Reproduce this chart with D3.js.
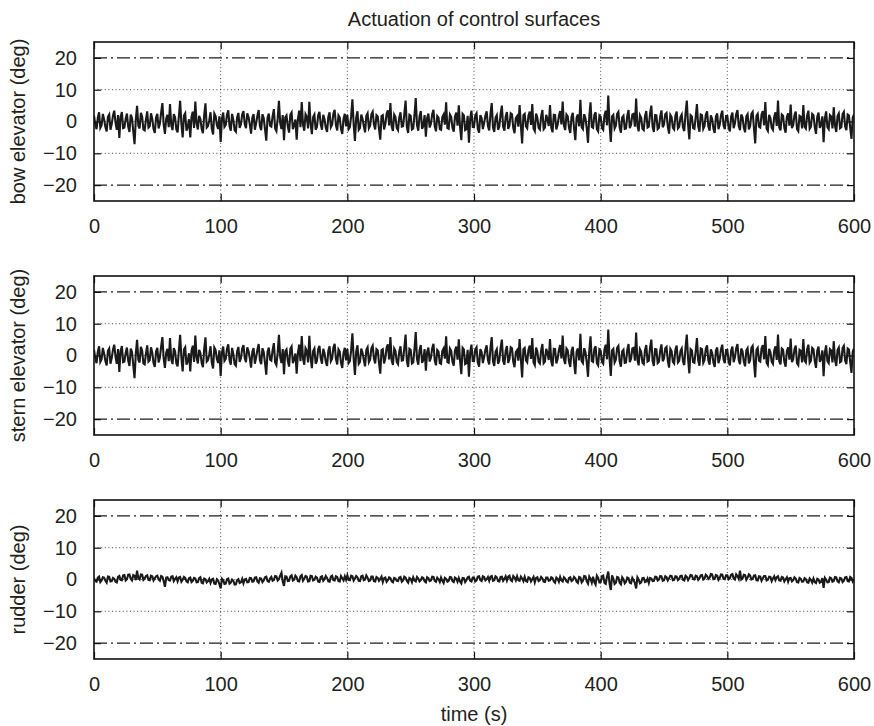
<!DOCTYPE html>
<html>
<head>
<meta charset="utf-8">
<script src="https://cdn.jsdelivr.net/npm/d3@7"></script>
<style>
    body { margin: 0; background: #fff; }
    text { font-family: "Liberation Sans", Arial, Helvetica, sans-serif; fill: #231f20; }
</style>
</head>
<body>
<svg id="chart" width="874" height="726"></svg>
<script>
const timeTicks = [0, 100, 200, 300, 400, 500, 600];
const degTicks = [-20, -10, 0, 10, 20];
const gridDeg = [-10, 0, 10];
const limitDeg = [-20, 20];
const sampleStep = 1; // seconds between read-off samples

const bowDeg = [
    1.8, -0.9, -2.4, 1.1, 2.9, -2.0, -1.2, 2.4, 0.6, -1.7, -3.1, 1.5, 2.2, -2.6, -0.8, 1.9, 3.4, -0.4, -2.6, 2.0,
    -5.2, 1.4, 3.0, -2.1, -1.9, 0.8, 2.5, -1.6, -3.3, 2.2, 1.1, -3.0, -7.1, 0.5, 4.9, -1.3, -2.2, 2.7, 1.6, -2.5,
    -2.8, 0.6, 3.2, -1.9, -1.5, 2.6, 0.9, -2.4, -3.6, 1.3, 2.4, -2.2, -0.7, 2.8, 5.8, -1.0, -3.9, 0.9, 2.1, -1.8,
    5.5, -1.2, -2.7, 2.3, 1.3, -2.5, -3.4, 1.6, 6.5, -0.8, -5.0, 1.9, 2.6, -2.9, -1.8, 0.7, -5.0, 1.5, 3.1, -2.0,
    6.3, -0.6, -2.5, 1.8, 0.8, -2.3, -3.7, 2.0, 5.7, -1.9, -1.4, 0.4, 2.9, -2.2, -4.1, 2.5, 1.7, -1.1, -2.3, 1.6,
    -6.4, 1.0, 2.8, -1.7, -1.1, 2.1, 3.5, -1.4, -2.9, 2.4, 0.5, -2.7, -3.2, 1.3, 2.7, -2.0, -0.9, 2.2, 3.3, -0.8,
    -2.1, 2.6, 1.4, -0.9, -3.8, 1.2, 2.3, -2.6, -0.6, 1.8, 3.6, -1.5, -2.7, 2.3, 1.0, -2.4, -6.0, 1.1, 2.5, -1.3,
    -1.6, 1.7, 3.9, -2.2, -3.0, 0.9, 6.5, -0.5, -2.4, 2.0, -5.9, 1.3, 1.9, -1.6, -3.5, 2.1, 2.8, -2.4, -1.2, 0.6,
    -5.7, 0.8, 3.4, -1.8, 6.1, -1.0, -2.9, 2.3, 1.5, -2.2, 6.2, -0.7, -4.0, 1.4, 2.2, -2.6, -1.7, 2.0, 3.0, -0.9,
    -2.6, 2.1, 0.7, -2.0, -3.3, 1.5, 2.9, -1.8, -1.0, 2.5, 3.7, -1.1, -2.8, 1.9, 1.2, -2.3, -3.9, 0.8, 2.4, -1.5,
    2.1, -2.4, -1.8, 1.6, 7.0, -0.9, -6.1, 1.2, 3.2, -2.6, -2.0, 2.2, 0.9, -1.4, -3.4, 1.8, 2.6, -2.1, -1.3, 2.3,
    3.1, -1.0, -2.5, 2.0, 1.6, -2.3, -5.7, 1.7, 2.0, -2.5, -0.8, 2.4, 3.5, -1.2, 5.8, -1.5, -3.0, 2.2, 1.4, -2.0,
    -2.7, 1.3, 2.9, -1.6, -1.5, 2.4, 6.6, -1.8, -3.6, 2.1, 1.8, -2.5, -2.2, 1.9, 7.4, -1.1, -2.9, 1.6, 3.3, -2.3,
    -1.4, 2.0, -4.8, 1.1, 2.5, -1.9, -0.7, 2.3, 3.7, -1.5, -3.1, 1.7, 1.2, -2.4, -2.6, 1.4, 2.2, -1.0, 6.0, -2.1,
    -2.3, 2.2, 1.5, -2.0, -3.2, 1.6, 2.8, -1.3, 5.1, -1.8, -5.9, 2.4, 1.9, -2.7, -2.4, 1.8, -6.7, 1.0, 3.4, -1.7,
    -1.7, 1.9, 2.6, -2.2, -3.5, 2.0, 1.1, -2.4, -0.5, 1.8, 3.2, -1.4, -2.8, 2.3, 5.8, -1.9, -3.3, 1.2, 2.0, -2.6,
    -1.6, 2.4, 5.0, -1.7, -2.9, 1.5, 3.0, -2.3, -1.2, 2.6, 2.3, -2.0, -3.7, 1.1, 1.7, -1.6, 5.2, -1.2, -6.9, 2.0,
    2.4, -1.5, -2.1, 1.8, 3.1, -1.1, 5.5, -2.2, -3.0, 2.5, 1.3, -2.0, -2.5, 1.6, 3.6, -2.4, -1.9, 2.1, 0.8, -1.4,
    5.2, -1.9, -3.4, 2.1, 2.0, -2.5, -1.1, 1.7, 3.3, -0.9, 6.3, -1.3, -2.7, 2.2, 1.6, -2.0, -3.6, 1.4, 2.7, -2.2,
    -5.9, 1.2, 2.2, -1.5, 6.8, -1.8, -2.4, 2.3, 1.0, -2.1, -6.7, 1.5, 6.0, -1.7, -2.0, 2.0, 2.9, -2.4, -3.1, 1.9,
    1.5, -2.0, -2.6, 1.9, 3.4, -1.2, 8.2, -0.8, -6.4, 1.6, 2.1, -2.2, -1.3, 2.4, 3.0, -1.9, -3.5, 1.3, 1.8, -2.3,
    -2.2, 1.8, 3.6, -2.1, -1.0, 2.2, 2.4, -1.6, 7.2, -1.4, -3.1, 2.0, 1.2, -2.3, -2.7, 1.7, 3.3, -1.9, -1.6, 2.5,
    5.0, -1.7, -3.3, 2.0, 1.9, -2.4, -2.0, 1.5, 3.5, -1.8, -0.9, 2.3, 2.7, -1.6, -3.8, 2.1, 1.4, -2.0, -2.5, 1.8,
    3.1, -2.2, -1.7, 1.4, 2.2, -1.9, -3.0, 2.5, 6.6, -1.0, -5.6, 2.0, 1.6, -2.1, -2.3, 1.3, 5.5, -1.5, -3.2, 2.2,
    2.0, -2.3, -1.4, 2.1, 3.2, -1.5, -2.9, 1.9, 0.8, -2.2, -3.6, 1.6, 2.5, -2.4, -1.0, 2.0, 3.4, -1.3, -2.4, 1.7,
    1.7, -1.8, -3.1, 1.5, 2.8, -2.1, -0.6, 2.3, 3.6, -1.4, -2.7, 2.2, 1.3, -1.9, -3.4, 1.6, 2.3, -2.5, -1.5, 2.4,
    3.0, -2.0, -6.9, 1.8, 2.4, -1.6, -1.9, 2.2, 3.3, -1.2, 6.1, -2.3, -3.0, 2.1, 1.1, -1.9, -2.6, 1.5, 2.9, -1.4,
    6.6, -1.9, -2.8, 2.2, 1.8, -2.0, -3.5, 1.4, 2.6, -1.3, 5.3, -2.1, -1.2, 2.0, 3.1, -2.4, -3.0, 1.8, 1.5, -2.2,
    5.2, -1.6, -2.2, 1.9, 3.4, -2.3, -1.6, 2.4, 2.0, -1.7, -3.9, 1.5, 2.8, -2.0, -1.1, 1.6, -6.5, 1.0, 3.2, -1.8,
    -2.4, 2.0, 1.6, -2.2, 4.5, -1.4, -3.3, 1.7, 2.5, -2.1, -1.8, 2.3, 3.0, -1.6, -2.7, 2.2, 1.9, -2.0, -5.5, 1.2,
    2.2
];

// stern elevator trace reads the same as the bow trace in the picture
const sternDeg = bowDeg.slice();

const rudderDeg = [
    0.4, -0.5, -0.7, 0.6, 0.9, -0.8, -0.3, 0.7, 0.6, -0.4, -1.0, 0.9, 0.8, -0.6, -0.5, 0.5, 0.2, -0.7, -0.9, 0.8,
    1.1, -0.1, -0.2, 1.3, 1.4, -0.3, 0.1, 1.5, 1.6, 0.2, -0.3, 1.4, 1.2, -0.2, 2.8, 0.4, 0.0, 1.6, 1.5, -0.1,
    0.3, 1.1, 1.3, -0.1, -0.2, 1.2, 1.0, -0.3, 0.4, 1.0, 1.2, 0.0, -0.4, 1.1, 0.9, -0.5, -2.3, 0.6, 0.7, -0.2,
    -0.3, 0.9, 1.0, -0.5, 0.2, 0.7, -0.6, 0.6, 0.8, -0.7, -0.1, 0.8, 0.5, -0.6, -0.9, 0.4, 0.6, -0.8, -0.4, 0.5,
    0.3, -0.9, -0.8, 0.4, 0.7, -1.0, -1.2, 0.3, 0.1, -0.9, -0.5, 0.2, -1.1, 0.0, 0.2, -1.3, -1.4, 0.1, -0.3, -1.5,
    -2.8, 0.2, -0.2, -1.4, -1.3, 0.1, 0.3, -1.3, -1.0, 0.0, -0.4, -1.6, -1.5, -0.2, 0.1, -1.1, -0.9, 0.2, -1.2, 0.0,
    0.2, -0.9, -0.8, 0.5, 0.4, -0.7, -0.6, 0.6, 0.7, -0.6, -1.0, 0.4, 0.3, -0.8, -0.3, 0.7, 0.9, -0.5, -0.7, 0.3,
    0.8, -0.4, -0.2, 1.1, 1.0, -0.3, 0.1, 1.2, 2.1, -0.6, -2.0, 1.0, 0.9, -0.5, -0.4, 1.0, 1.3, -0.3, 0.0, 1.2,
    0.7, -0.5, -0.6, 1.0, 1.4, -0.4, 0.2, 1.1, 0.9, -0.6, -0.5, 1.2, 1.1, -0.3, -0.1, 0.9, 0.6, -0.7, -0.8, 0.8,
    1.0, -0.4, 0.1, 1.1, 0.5, -0.6, -0.7, 0.9, 1.2, -0.2, -0.3, 1.0, 0.8, -0.5, -0.6, 1.1, 0.4, -0.3, 1.0, -0.1,
    1.3, -0.1, -0.2, 1.2, 1.0, -0.3, 0.3, 1.1, 0.7, -0.4, -0.5, 1.0, 1.2, -0.2, 0.0, 1.3, 0.6, -0.5, -0.3, 0.9,
    0.9, -0.5, -0.6, 0.8, 0.5, -0.4, 0.2, 0.9, -0.8, 0.4, 0.6, -0.7, -0.2, 0.7, 0.4, -0.6, -0.9, 0.5, 0.3, -0.4,
    -0.5, 0.6, 0.8, -0.7, -0.3, 0.9, 0.6, -0.5, -1.0, 0.5, 0.2, -0.8, 0.7, -0.3, -0.6, 0.8, 0.3, -0.6, -0.2, 0.7,
    0.5, -0.6, -0.9, 0.7, 0.4, -0.5, -0.3, 0.9, 0.8, -0.4, -0.7, 0.6, 0.1, -0.8, 0.6, -0.4, -1.1, 0.5, 0.2, -0.7,
    -0.4, 0.8, 0.7, -0.5, -0.8, 0.6, 0.3, -0.7, 0.5, -0.6, -1.2, 0.5, 0.4, -0.8, -0.2, 0.7, 0.9, -0.4, -0.6, 0.6,
    0.6, -0.6, -0.3, 0.9, 1.0, -0.2, -0.5, 1.0, 0.8, -0.3, 0.1, 0.8, -0.4, 0.9, 1.1, -0.4, -0.2, 1.0, 0.7, -0.5,
    -0.6, 0.8, 0.9, -0.4, 0.2, 1.0, -0.3, 0.9, 1.2, -0.2, -0.5, 1.1, 0.6, -0.3, 1.0, -0.2, -0.4, 0.9, 0.3, -0.5,
    0.8, -0.5, -0.7, 0.7, 0.5, -0.6, 0.1, 0.8, -0.9, 0.5, 0.7, -0.5, -0.2, 0.8, 0.4, -0.7, -0.8, 0.6, 0.6, -0.4,
    -0.3, 0.7, 0.5, -0.6, -1.0, 0.6, 0.2, -0.7, 0.8, -0.3, -0.6, 0.7, 0.3, -0.6, -0.9, 0.5, 0.7, -0.5, -0.2, 0.8,
    0.4, -0.7, -1.1, 0.8, 0.6, -0.9, -0.4, 1.1, 1.0, -0.6, -1.3, 0.9, 0.2, -1.0, 0.9, -0.8, -1.6, 1.2, 0.5, -0.9,
    -0.8, 1.0, 1.2, -1.1, -1.4, 0.9, 2.5, -1.2, -3.3, 1.3, 0.3, -1.4, -1.0, 0.8, 0.6, -1.0, -1.5, 0.7, 0.1, -1.2,
    -0.7, 0.6, 0.4, -1.0, -1.2, 0.5, -0.2, -1.1, -2.8, 0.7, 0.0, -1.2, -0.9, 0.4, 0.5, -0.8, -0.6, 0.3, -1.1, 0.5,
    0.3, -0.5, -0.4, 0.9, 0.8, -0.3, 0.0, 1.1, 1.0, -0.4, -0.2, 1.0, 0.7, -0.3, 0.4, 1.2, 1.1, -0.2, -0.1, 1.0,
    0.9, -0.2, 0.2, 1.1, 1.2, -0.1, -0.3, 1.2, 0.8, -0.2, 0.5, 1.4, 1.3, 0.1, 0.0, 1.2, 1.0, -0.1, 0.4, 1.3,
    1.4, 0.0, 0.3, 1.5, 1.1, 0.2, 0.6, 1.7, 1.6, 0.1, 0.2, 1.4, 1.2, -0.1, 0.5, 1.6, 1.5, 0.2, 0.1, 1.3,
    1.3, 0.1, 0.4, 1.5, 1.7, 0.3, 0.0, 1.6, 1.1, 0.2, 2.8, 0.0, 0.3, 1.5, 1.4, -0.1, 0.6, 1.6, 1.2, 0.0,
    0.2, 1.2, 1.3, -0.2, -0.3, 1.0, 0.9, -0.4, 0.4, 1.1, 1.1, -0.3, -0.1, 0.9, 0.8, -0.5, 0.3, 1.0, -0.2, 0.7,
    1.0, -0.3, -0.4, 0.8, 0.6, -0.6, 0.1, 0.7, -0.7, 0.4, 0.5, -0.6, -0.2, 0.7, 0.3, -0.8, -0.9, 0.5, 0.2, -0.7,
    -0.6, 0.4, 0.1, -0.9, -1.0, 0.3, -0.2, -1.0, 0.3, -0.8, -1.1, 0.2, 0.0, -1.0, -0.7, 0.4, -2.6, 0.5, -0.1, -0.9,
    -0.8, 0.6, 0.4, -0.7, -0.5, 0.8, 0.7, -0.6, -0.9, 0.5, 0.3, -0.8, -0.4, 0.7, 0.8, -0.5, -0.6, 0.8, 0.5, -0.6,
    0.1
];

const panelLabels = ['bow elevator (deg)', 'stern elevator (deg)', 'rudder (deg)'];
const panelSeries = [bowDeg, sternDeg, rudderDeg];

const svg = d3.select('#chart');
const left = 94;
const right = 854;
const panelTops = [42, 276, 500];
const panelHeight = 159;
const tickLen = 7;
const fontSize = 20;
const minus = v => (v < 0 ? '\u2212' + Math.abs(v) : String(v));

const x = d3.scaleLinear()
    .domain([0, 600])
    .range([left, right]);

const signalLine = (y) => d3.line()
    .x((d, i) => x(i * sampleStep))
    .y(d => y(d));

(function drawPanels(enabled) {
    if (enabled) {
        panelSeries.forEach((values, p) => {
            const top = panelTops[p];
            const bottom = top + panelHeight;
            const y = d3.scaleLinear()
                .domain([-25, 25])
                .range([bottom, top]);
            const g = svg.append('g').attr('class', `panel-${p}`);

            g.append('clipPath')
                .attr('id', `clip-${p}`)
                .append('rect')
                .attr('x', left)
                .attr('y', top)
                .attr('width', right - left)
                .attr('height', panelHeight);

            // dotted grid
            g.selectAll('line.vgrid')
                .data(timeTicks.slice(1, -1))
                .enter()
                .append('line')
                .attr('class', 'vgrid')
                .attr('x1', d => x(d))
                .attr('x2', d => x(d))
                .attr('y1', top)
                .attr('y2', bottom)
                .style('stroke', '#333')
                .style('stroke-width', 0.9)
                .style('stroke-dasharray', '1,2.6');

            g.selectAll('line.hgrid')
                .data(gridDeg)
                .enter()
                .append('line')
                .attr('class', 'hgrid')
                .attr('x1', left)
                .attr('x2', right)
                .attr('y1', d => y(d))
                .attr('y2', d => y(d))
                .style('stroke', '#333')
                .style('stroke-width', 0.9)
                .style('stroke-dasharray', '1,2.6');

            // saturation limits
            g.selectAll('line.limit')
                .data(limitDeg)
                .enter()
                .append('line')
                .attr('class', 'limit')
                .attr('x1', left)
                .attr('x2', right)
                .attr('y1', d => y(d))
                .attr('y2', d => y(d))
                .style('stroke', '#1e1e1e')
                .style('stroke-width', 1.4)
                .style('stroke-dasharray', '13,4,2,4');

            g.append('path')
                .datum(values)
                .attr('clip-path', `url(#clip-${p})`)
                .attr('d', signalLine(y))
                .style('fill', 'none')
                .style('stroke', '#1a1a1a')
                .style('stroke-width', 2.1)
                .style('stroke-linejoin', 'miter');

            // axes with inward ticks on all four sides
            const bottomAxis = d3.axisBottom(x)
                .tickValues(timeTicks)
                .tickSizeInner(-tickLen)
                .tickSizeOuter(0)
                .tickPadding(18);
            const leftAxis = d3.axisLeft(y)
                .tickValues(degTicks)
                .tickFormat(minus)
                .tickSizeInner(-tickLen)
                .tickSizeOuter(0)
                .tickPadding(17);
            const topAxis = d3.axisTop(x)
                .tickValues(timeTicks)
                .tickFormat('')
                .tickSizeInner(-tickLen)
                .tickSizeOuter(0);
            const rightAxis = d3.axisRight(y)
                .tickValues(degTicks)
                .tickFormat('')
                .tickSizeInner(-tickLen)
                .tickSizeOuter(0);

            [
                [bottomAxis, `translate(0, ${bottom})`],
                [leftAxis, `translate(${left}, 0)`],
                [topAxis, `translate(0, ${top})`],
                [rightAxis, `translate(${right}, 0)`]
            ].forEach(([axis, tr]) => {
                const a = g.append('g')
                    .attr('transform', tr)
                    .call(axis);
                a.select('.domain').remove();
                a.selectAll('.tick line')
                    .style('stroke', '#111')
                    .style('stroke-width', 1.2);
                a.selectAll('.tick text')
                    .style('font-size', `${fontSize}px`)
                    .style('font-family', '"Liberation Sans", Arial, sans-serif')
                    .style('fill', '#231f20');
            });

            g.append('rect')
                .attr('x', left)
                .attr('y', top)
                .attr('width', right - left)
                .attr('height', panelHeight)
                .style('fill', 'none')
                .style('stroke', '#111')
                .style('stroke-width', 1.6);

            g.append('text')
                .attr('transform', `translate(25, ${(top + bottom) / 2}) rotate(-90)`)
                .attr('text-anchor', 'middle')
                .style('font-size', `${fontSize}px`)
                .text(panelLabels[p]);
        });
    }
}(true));

(function drawTitles(enabled) {
    if (enabled) {
        svg.append('text')
            .attr('x', (left + right) / 2)
            .attr('y', 26)
            .attr('text-anchor', 'middle')
            .style('font-size', `${fontSize}px`)
            .text('Actuation of control surfaces');

        svg.append('text')
            .attr('x', (left + right) / 2)
            .attr('y', 721)
            .attr('text-anchor', 'middle')
            .style('font-size', `${fontSize}px`)
            .text('time (s)');
    }
}(true));
</script>
</body>
</html>
